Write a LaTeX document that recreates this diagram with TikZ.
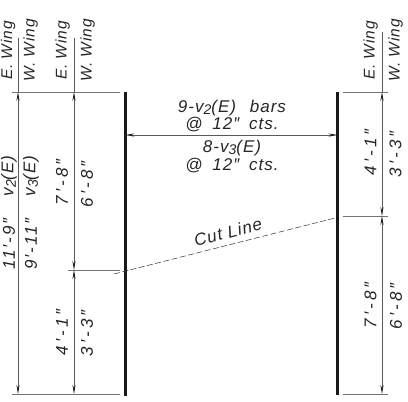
\documentclass[tikz,border=0pt]{standalone}
\usepackage{fontspec}
\setmainfont{Liberation Sans}[ItalicFont=* Italic]
\usetikzlibrary{arrows.meta}
\newfontfamily\dimfont{Liberation Sans Italic}[LetterSpace=6]
\newfontfamily\numfont{Liberation Sans Italic}[LetterSpace=18]
\newfontfamily\longnumfont{Liberation Sans Italic}[LetterSpace=10]
\newcommand{\lowtwo}[1]{\raisebox{-2.4pt}{\fontsize{14}{14}\selectfont #1}}
\tikzset{
  dimtext/.style={font=\dimfont\fontsize{17}{20}\selectfont,inner sep=0pt,text=black!85},
  vtext/.style={dimtext,rotate=90},
  wingtext/.style={vtext,font=\dimfont\fontsize{15.5}{18}\selectfont},
  numtext/.style={vtext,font=\numfont\fontsize{17}{20}\selectfont},
  longnum/.style={vtext,font=\longnumfont\fontsize{17}{20}\selectfont},
  ext/.style={line width=0.6pt,draw=black!55},
  dimline/.style={line width=0.6pt,draw=black!65},
  tips/.style={{Stealth[length=9pt,width=3.2pt,color=black!85]}-{Stealth[length=9pt,width=3.2pt,color=black!85]}},
  wall/.style={line width=2.6pt,draw=black!90},
  cut/.style={line width=0.55pt,draw=black!75,dash pattern=on 6pt off 2.5pt}
}
\begin{document}
\begin{tikzpicture}[x=1pt,y=-1pt]
\useasboundingbox (0,0) rectangle (408,402);
% named points
\coordinate (a0) at (18,38);
\coordinate (a1) at (18,92);
\coordinate (a2) at (18,394);
\coordinate (b0) at (74,38);
\coordinate (b1) at (74,92);
\coordinate (b2) at (74,270);
\coordinate (b3) at (74,394);
\coordinate (c0) at (382,32);
\coordinate (c1) at (382,92);
\coordinate (c2) at (382,216);
\coordinate (c3) at (382,394);
\coordinate (wl0) at (125.5,92);
\coordinate (wl1) at (125.5,396);
\coordinate (wr0) at (337.5,92);
\coordinate (wr1) at (337.5,395);
\coordinate (hl) at (125.5,135);
\coordinate (hr) at (337.5,135);
% extension lines
\draw[ext] (12,92) -- (120,92);
\draw[ext] (12,394) -- (120,394);
\draw[ext] (68,270) -- (120,270);
\draw[ext] (343,92) -- (388,92);
\draw[ext] (343,216) -- (388,216);
\draw[ext] (343,394) -- (388,394);
% walls
\draw[wall] (wl0) -- (wl1);
\draw[wall] (wr0) -- (wr1);
% dimension lines
\draw[dimline] (a0) -- (a1);
\draw[dimline] (b0) -- (b1);
\draw[dimline] (c0) -- (c1);
\draw[dimline,tips] (a1) -- (a2);
\draw[dimline,tips] (b1) -- (b2);
\draw[dimline,tips] (b2) -- (b3);
\draw[dimline,tips] (c1) -- (c2);
\draw[dimline,tips] (c2) -- (c3);
\draw[dimline,tips] (hl) -- (hr);
% cut line
\coordinate (cutl) at (114,274);
\coordinate (cutr) at (335,218);
\draw[cut] (cutl) -- (cutr);
\node[dimtext,rotate=14.2] (cutlabel) at (228,232) {Cut Line};
% wing labels
\node[wingtext] (e1) at (8,50.5) {E. Wing};
\node[wingtext] (w1) at (30.5,50.5) {W. Wing};
\node[wingtext] (e2) at (62.5,50.5) {E. Wing};
\node[wingtext] (w2) at (87.5,50.5) {W. Wing};
\node[wingtext] (e3) at (370.5,50.5) {E. Wing};
\node[wingtext] (w3) at (395.5,50.5) {W. Wing};
% left labels
\node[vtext] (v2) at (9,176) {v\lowtwo{2}(E)};
\node[vtext] (v3) at (31,176) {v\lowtwo{3}(E)};
\node[longnum] (d1) at (9,244) {11′-9″};
\node[longnum] (d2) at (31,244) {9′-11″};
\node[numtext] (d3) at (62,182) {7′-8″};
\node[numtext] (d4) at (87,184) {6′-8″};
\node[numtext] (d5) at (62,332) {4′-1″};
\node[numtext] (d6) at (87,333) {3′-3″};
% right labels
\node[numtext] (d7) at (370.5,152) {4′-1″};
\node[numtext] (d8) at (395.5,154) {3′-3″};
\node[numtext] (d9) at (370.5,305) {7′-8″};
\node[numtext] (d10) at (396,306) {6′-8″};
% centre labels
\node[dimtext] (t1) at (232,108) {9-v\lowtwo{2}(E)\hspace{8pt} bars};
\node[dimtext] (t2) at (232,125) {@\hspace{4pt} 12″\hspace{4pt} cts.};
\node[dimtext] (t3) at (232,148) {8-v\lowtwo{3}(E)};
\node[dimtext] (t4) at (232,166) {@\hspace{4pt} 12″\hspace{4pt} cts.};
\end{tikzpicture}
\end{document}
